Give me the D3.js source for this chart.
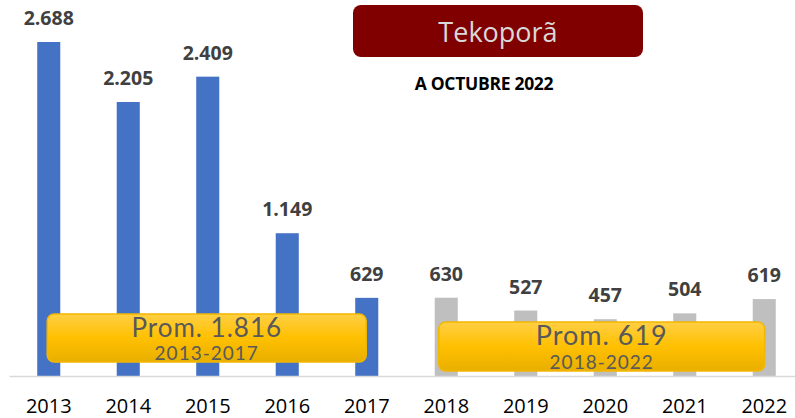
<!DOCTYPE html>
<html>
<head>
<meta charset="utf-8">
<script src="https://cdn.jsdelivr.net/npm/d3@7"></script>
<style>
  body { margin: 0; background: #fff; }
  svg { display: block; }
</style>
</head>
<body>
<script>
// chart data
const years = ["2013", "2014", "2015", "2016", "2017", "2018", "2019", "2020", "2021", "2022"];
const values = [2688, 2205, 2409, 1149, 629, 630, 527, 457, 504, 619];
const periods = ["a", "a", "a", "a", "a", "b", "b", "b", "b", "b"];
const avgValues = [1816, 619];
const avgRanges = ["2013-2017", "2018-2022"];
const title = "Tekoporã";
const subtitle = "A OCTUBRE 2022";

const W = 795, H = 418;
const baseY = 376;

const fmt = d3.formatLocale({decimal: ",", thousands: ".", grouping: [3], currency: ["", ""]}).format(",d");

const svg = d3.select("body").append("svg")
    .attr("width", W)
    .attr("height", H);

const defs = svg.append("defs");
const grad = defs.append("linearGradient")
    .attr("id", "gold")
    .attr("x1", 0).attr("y1", 0).attr("x2", 0).attr("y2", 1);
grad.append("stop").attr("offset", "0%").attr("stop-color", "#ffcf45");
grad.append("stop").attr("offset", "50%").attr("stop-color", "#ffc000");
grad.append("stop").attr("offset", "100%").attr("stop-color", "#e9af00");

const x = d3.scaleBand()
    .domain(years)
    .range([9, 804])
    .paddingInner(0.71)
    .paddingOuter(0.355);

const y = d3.scaleLinear()
    .domain([0, 2688])
    .range([baseY, 42]);

const color = d3.scaleOrdinal().domain(["a", "b"]).range(["#4472c4", "#bfbfbf"]);

const data = years.map((yr, i) => ({year: yr, value: values[i], period: periods[i]}));

// bars
svg.append("g").attr("class", "bars")
    .selectAll("rect")
    .data(data)
    .enter().append("rect")
    .attr("x", d => x(d.year))
    .attr("y", d => y(d.value))
    .attr("width", x.bandwidth())
    .attr("height", d => baseY - y(d.value))
    .attr("fill", d => color(d.period));

// value labels
svg.append("g").attr("class", "labels")
    .selectAll("text")
    .data(data)
    .enter().append("text")
    .attr("x", d => x(d.year) + x.bandwidth() / 2)
    .attr("y", d => y(d.value) - 17)
    .attr("text-anchor", "middle")
    .attr("font-family", "Open Sans")
    .attr("font-weight", "bold")
    .attr("font-size", 19.5)
    .attr("fill", "#404040")
    .text(d => fmt(d.value));

// x axis
const axis = svg.append("g")
    .attr("transform", "translate(0," + baseY + ")")
    .call(d3.axisBottom(x).tickSize(0).tickPadding(0));
axis.select(".domain").attr("stroke", "#d9d9d9").attr("stroke-width", 1.5);
axis.selectAll(".tick text")
    .attr("dy", null)
    .attr("y", 37)
    .attr("font-family", "Open Sans")
    .attr("font-size", 20)
    .attr("fill", "#000");

// average boxes
const boxes = [
    {x0: x("2013") + 10, x1: x("2017") + 11, top: 314, bottom: 362, big: 26, small: 19, b1: 337, b2: 360},
    {x0: x("2018") + 4, x1: x("2022") + 12, top: 322, bottom: 371, big: 27, small: 19, b1: 345, b2: 369}
];
boxes.forEach((b, i) => {
    const g = svg.append("g");
    g.append("rect")
        .attr("x", b.x0)
        .attr("y", b.top)
        .attr("width", b.x1 - b.x0)
        .attr("height", b.bottom - b.top)
        .attr("rx", 7)
        .attr("fill", "url(#gold)")
        .attr("stroke", "#f2b700")
        .attr("stroke-width", 1.5);
    const cx = (b.x0 + b.x1) / 2;
    g.append("text")
        .attr("x", cx)
        .attr("y", b.b1)
        .attr("text-anchor", "middle")
        .attr("font-family", "Lato")
        .attr("font-size", b.big)
        .attr("letter-spacing", 1)
        .attr("fill", "#595959")
        .text("Prom. " + fmt(avgValues[i]));
    g.append("text")
        .attr("x", cx)
        .attr("y", b.b2)
        .attr("text-anchor", "middle")
        .attr("font-family", "Lato")
        .attr("font-size", b.small)
        .attr("letter-spacing", 1)
        .attr("fill", "#595959")
        .text(avgRanges[i]);
});

// title
svg.append("rect")
    .attr("x", 353)
    .attr("y", 5)
    .attr("width", 290)
    .attr("height", 52)
    .attr("rx", 8)
    .attr("fill", "#800000");
svg.append("text")
    .attr("x", 498)
    .attr("y", 42)
    .attr("text-anchor", "middle")
    .attr("font-family", "Open Sans")
    .attr("font-size", 27)
    .attr("fill", "#d9d9d9")
    .text(title);
svg.append("text")
    .attr("x", 484)
    .attr("y", 90)
    .attr("text-anchor", "middle")
    .attr("font-family", "Open Sans")
    .attr("font-weight", "bold")
    .attr("font-size", 17.5)
    .attr("letter-spacing", -0.3)
    .attr("fill", "#000")
    .text(subtitle);
</script>
</body>
</html>
